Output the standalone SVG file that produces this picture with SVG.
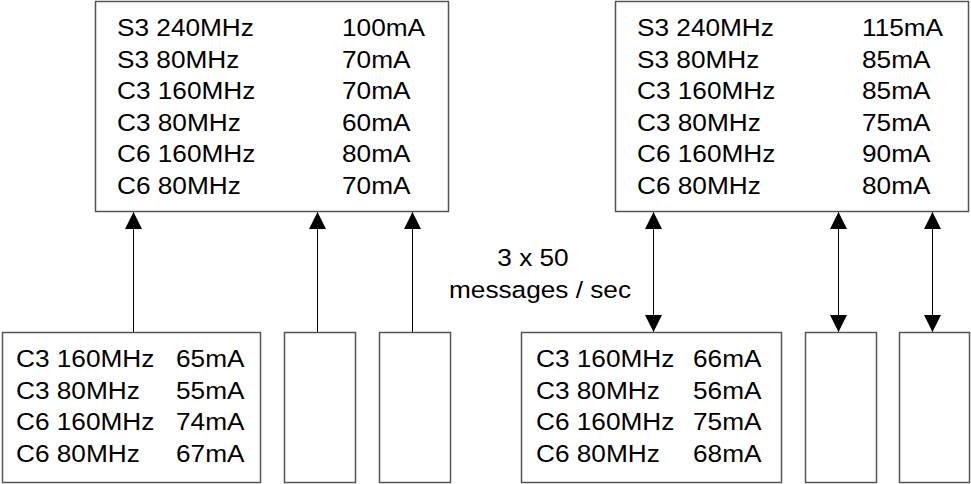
<svg xmlns="http://www.w3.org/2000/svg" width="971" height="484" viewBox="0 0 971 484">
<style>
.box{fill:#fff;stroke:#555;stroke-width:1.5}
.t{font-family:"Liberation Sans",Arial,sans-serif;font-size:24.5px;fill:#000}
.m{text-anchor:middle}
.c{stroke:#000;stroke-width:1;fill:none}
</style>
<defs>
<marker id="ah" viewBox="0 0 17 17" refX="17" refY="8.5" markerWidth="17" markerHeight="17" orient="auto-start-reverse" markerUnits="userSpaceOnUse"><path d="M0,0 L17,8.5 L0,17 z" fill="#000"/></marker>
</defs>
<rect width="971" height="484" fill="#fff"/>
<g id="connectors">
<line class="c" x1="133.5" y1="332" x2="133.5" y2="212" marker-end="url(#ah)"/>
<line class="c" x1="317.5" y1="332" x2="317.5" y2="212" marker-end="url(#ah)"/>
<line class="c" x1="412.5" y1="332" x2="412.5" y2="212" marker-end="url(#ah)"/>
<line class="c" x1="653.5" y1="212" x2="653.5" y2="332" marker-start="url(#ah)" marker-end="url(#ah)"/>
<line class="c" x1="838.5" y1="212" x2="838.5" y2="332" marker-start="url(#ah)" marker-end="url(#ah)"/>
<line class="c" x1="932.5" y1="212" x2="932.5" y2="332" marker-start="url(#ah)" marker-end="url(#ah)"/>
</g>
<g id="top-left">
<rect class="box" x="95.5" y="1.5" width="353" height="210"/>
<text class="t" transform="matrix(1.07 0 0 1 117 36)">S3 240MHz</text>
<text class="t" transform="matrix(1.07 0 0 1 117 67.6)">S3 80MHz</text>
<text class="t" transform="matrix(1.07 0 0 1 117 99.2)">C3 160MHz</text>
<text class="t" transform="matrix(1.07 0 0 1 117 130.8)">C3 80MHz</text>
<text class="t" transform="matrix(1.07 0 0 1 117 162.4)">C6 160MHz</text>
<text class="t" transform="matrix(1.07 0 0 1 117 194)">C6 80MHz</text>
<text class="t" transform="matrix(1.07 0 0 1 342 36)">100mA</text>
<text class="t" transform="matrix(1.07 0 0 1 342 67.6)">70mA</text>
<text class="t" transform="matrix(1.07 0 0 1 342 99.2)">70mA</text>
<text class="t" transform="matrix(1.07 0 0 1 342 130.8)">60mA</text>
<text class="t" transform="matrix(1.07 0 0 1 342 162.4)">80mA</text>
<text class="t" transform="matrix(1.07 0 0 1 342 194)">70mA</text>
</g>
<g id="top-right">
<rect class="box" x="615.5" y="1.5" width="353" height="210"/>
<text class="t" transform="matrix(1.07 0 0 1 637 36)">S3 240MHz</text>
<text class="t" transform="matrix(1.07 0 0 1 637 67.6)">S3 80MHz</text>
<text class="t" transform="matrix(1.07 0 0 1 637 99.2)">C3 160MHz</text>
<text class="t" transform="matrix(1.07 0 0 1 637 130.8)">C3 80MHz</text>
<text class="t" transform="matrix(1.07 0 0 1 637 162.4)">C6 160MHz</text>
<text class="t" transform="matrix(1.07 0 0 1 637 194)">C6 80MHz</text>
<text class="t" transform="matrix(1.07 0 0 1 862 36)">115mA</text>
<text class="t" transform="matrix(1.07 0 0 1 862 67.6)">85mA</text>
<text class="t" transform="matrix(1.07 0 0 1 862 99.2)">85mA</text>
<text class="t" transform="matrix(1.07 0 0 1 862 130.8)">75mA</text>
<text class="t" transform="matrix(1.07 0 0 1 862 162.4)">90mA</text>
<text class="t" transform="matrix(1.07 0 0 1 862 194)">80mA</text>
</g>
<g id="bottom-left">
<rect class="box" x="2.5" y="332.5" width="258" height="150"/>
<text class="t" transform="matrix(1.07 0 0 1 16 367)">C3 160MHz</text>
<text class="t" transform="matrix(1.07 0 0 1 16 398.5)">C3 80MHz</text>
<text class="t" transform="matrix(1.07 0 0 1 16 430)">C6 160MHz</text>
<text class="t" transform="matrix(1.07 0 0 1 16 461.5)">C6 80MHz</text>
<text class="t" transform="matrix(1.07 0 0 1 176 367)">65mA</text>
<text class="t" transform="matrix(1.07 0 0 1 176 398.5)">55mA</text>
<text class="t" transform="matrix(1.07 0 0 1 176 430)">74mA</text>
<text class="t" transform="matrix(1.07 0 0 1 176 461.5)">67mA</text>
</g>
<g id="bottom-left-2"><rect class="box" x="284.5" y="332.5" width="71" height="150"/></g>
<g id="bottom-left-3"><rect class="box" x="379.5" y="332.5" width="71" height="150"/></g>
<g id="bottom-right">
<rect class="box" x="521.5" y="332.5" width="260" height="150"/>
<text class="t" transform="matrix(1.07 0 0 1 536 367)">C3 160MHz</text>
<text class="t" transform="matrix(1.07 0 0 1 536 398.5)">C3 80MHz</text>
<text class="t" transform="matrix(1.07 0 0 1 536 430)">C6 160MHz</text>
<text class="t" transform="matrix(1.07 0 0 1 536 461.5)">C6 80MHz</text>
<text class="t" transform="matrix(1.07 0 0 1 693 367)">66mA</text>
<text class="t" transform="matrix(1.07 0 0 1 693 398.5)">56mA</text>
<text class="t" transform="matrix(1.07 0 0 1 693 430)">75mA</text>
<text class="t" transform="matrix(1.07 0 0 1 693 461.5)">68mA</text>
</g>
<g id="bottom-right-2"><rect class="box" x="805.5" y="332.5" width="71" height="150"/></g>
<g id="bottom-right-3"><rect class="box" x="899.5" y="332.5" width="70" height="150"/></g>
<g id="rate-label">
<text class="t m" transform="matrix(1.07 0 0 1 533 266)">3 x 50</text>
<text class="t m" transform="matrix(1.07 0 0 1 540 298)">messages / sec</text>
</g>
</svg>
